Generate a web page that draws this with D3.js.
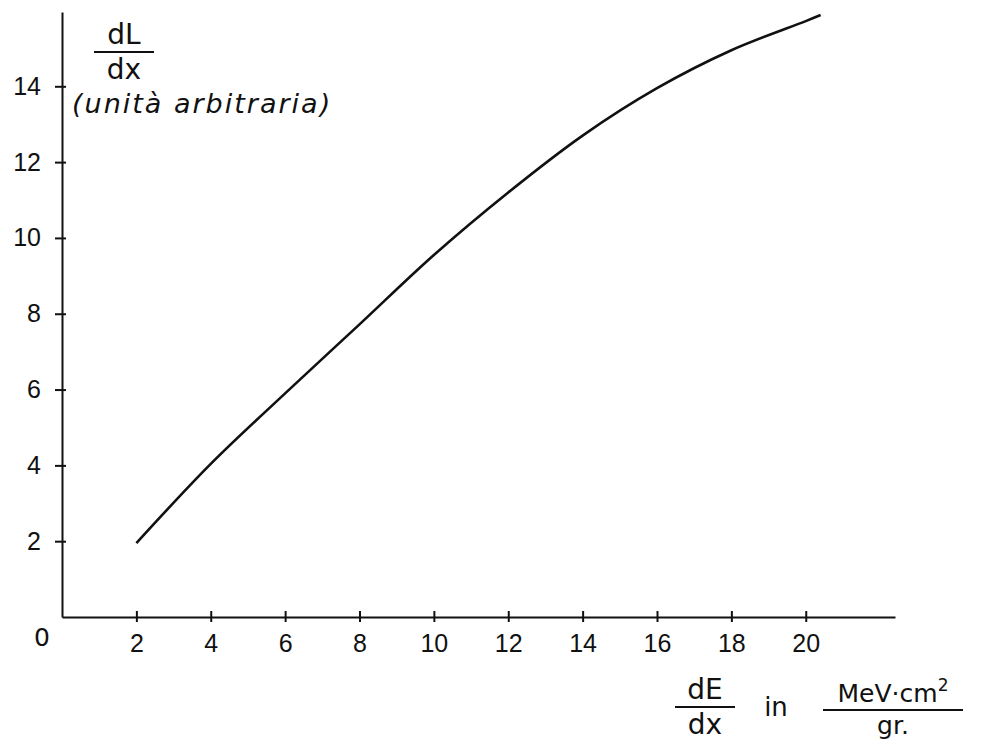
<!DOCTYPE html>
<html lang="it">
<head>
    <meta charset="UTF-8">
    <title>dL/dx vs dE/dx</title>
    <script src="https://d3js.org/d3.v7.min.js"></script>
    <style>
        body {
            margin: 0;
            background: #fff;
        }

        svg {
            display: block;
            font-family: "DejaVu Sans", sans-serif;
        }

        .axis path, .axis line {
            stroke: #111;
            stroke-width: 2px;
        }

        .axis text {
            font-size: 25px;
            fill: #111;
        }

        .curve {
            fill: none;
            stroke: #111;
            stroke-width: 2.6px;
        }

        .label {
            fill: #111;
        }
    </style>
</head>
<body>
<svg id="chart"></svg>
<script>

    // values
    const dEdx = [2, 4, 6, 8, 10, 12, 14, 16, 18, 20, 20.4];
    const dLdx = [1.95, 4.04, 5.9, 7.72, 9.55, 11.2, 12.7, 13.95, 14.95, 15.72, 15.88];

    const xTicks = [2, 4, 6, 8, 10, 12, 14, 16, 18, 20];
    const yTicks = [2, 4, 6, 8, 10, 12, 14];

    const width = 999;
    const height = 756;

    const svg = d3.select("#chart")
        .attr("width", width)
        .attr("height", height);

    const x = d3.scaleLinear().domain([0, 22.4]).range([62, 895]);
    const y = d3.scaleLinear().domain([0, 15.96]).range([617, 12]);

    // x axis
    const xAxis = svg.append("g")
        .attr("class", "axis")
        .attr("transform", `translate(0,${y(0)})`)
        .call(d3.axisBottom(x).tickValues(xTicks).tickSize(5).tickPadding(12).tickSizeOuter(0));
    xAxis.selectAll(".tick line").attr("y1", -6).attr("y2", 5);

    // y axis
    const yAxis = svg.append("g")
        .attr("class", "axis")
        .attr("transform", `translate(${x(0)},0)`)
        .call(d3.axisLeft(y).tickValues(yTicks).tickSize(7).tickPadding(14).tickSizeOuter(0));
    yAxis.selectAll(".tick line").attr("x2", -7).attr("x1", 4);

    // origin label
    svg.append("text")
        .attr("class", "label")
        .attr("x", 42)
        .attr("y", 646)
        .attr("text-anchor", "middle")
        .attr("font-size", 25)
        .text("0");

    // curve
    const points = dEdx.map((d, i) => [d, dLdx[i]]);
    svg.append("path")
        .datum(points)
        .attr("class", "curve")
        .attr("d", d3.line()
            .x(d => x(d[0]))
            .y(d => y(d[1]))
            .curve(d3.curveCatmullRom));

    // fraction helper
    function fraction(cx, top, bottom, lineY, lineW, size) {
        const g = svg.append("g");
        g.append("text").attr("class", "label")
            .attr("x", cx).attr("y", lineY - 8)
            .attr("text-anchor", "middle")
            .attr("font-size", size)
            .html(top);
        g.append("line")
            .attr("x1", cx - lineW / 2).attr("x2", cx + lineW / 2)
            .attr("y1", lineY).attr("y2", lineY)
            .attr("stroke", "#111").attr("stroke-width", 2);
        g.append("text").attr("class", "label")
            .attr("x", cx).attr("y", lineY + size - 1)
            .attr("text-anchor", "middle")
            .attr("font-size", size)
            .text(bottom);
    }

    // y title
    fraction(124, "dL", "dx", 52, 60, 28);
    svg.append("text")
        .attr("class", "label")
        .attr("x", 72)
        .attr("y", 113)
        .attr("font-size", 27)
        .attr("font-style", "italic")
        .attr("letter-spacing", 2)
        .text("(unità arbitraria)");

    // x title
    fraction(705, "dE", "dx", 707, 60, 28);
    svg.append("text")
        .attr("class", "label")
        .attr("x", 776)
        .attr("y", 716)
        .attr("text-anchor", "middle")
        .attr("font-size", 26)
        .text("in");
    fraction(893, "MeV·cm<tspan dy='-11' font-size='17'>2</tspan>", "gr.", 710, 140, 25);

</script>
</body>
</html>
